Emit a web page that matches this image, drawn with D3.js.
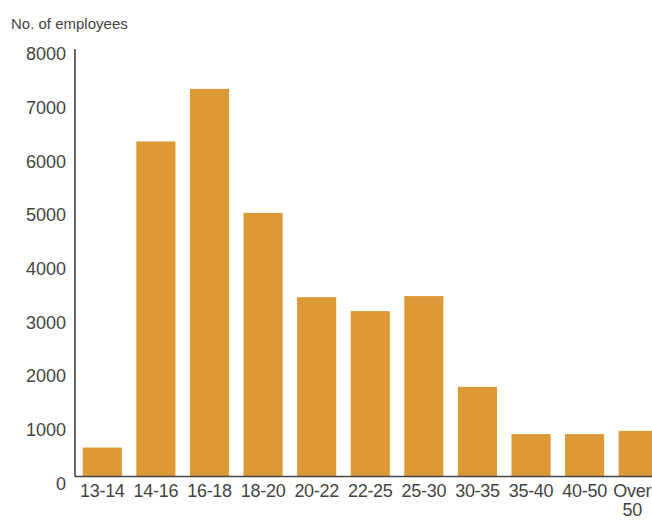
<!DOCTYPE html>
<html>
<head>
<meta charset="utf-8">
<script src="https://cdn.jsdelivr.net/npm/d3@7"></script>
<style>
  html, body { margin: 0; padding: 0; background: #fff; }
  svg { display: block; font-family: "Liberation Sans", Arial, sans-serif; }
</style>
</head>
<body>
<svg id="chart" width="652" height="520"></svg>
<script>
const categories = ["13-14", "14-16", "16-18", "18-20", "20-22", "22-25", "25-30", "30-35", "35-40", "40-50", "Over 50"];
const employees = [540, 6240, 7220, 4910, 3340, 3080, 3360, 1670, 790, 790, 850];
const yTicks = [0, 1000, 2000, 3000, 4000, 5000, 6000, 7000, 8000];
const yTitle = "No. of employees";

const svg = d3.select("#chart");
const textColor = "#444";
const barColor = "#dc9935";

const y = d3.scaleLinear().domain([0, 8000]).range([476.5, 47]);
const x = d3.scaleBand().domain(categories).range([75.5, 665]).paddingInner(0.27).paddingOuter(0.135);

// bars
svg.append("g").selectAll("rect").data(categories).join("rect")
  .attr("x", d => x(d))
  .attr("width", x.bandwidth())
  .attr("y", (d, i) => y(employees[i]))
  .attr("height", (d, i) => y(0) - y(employees[i]))
  .attr("fill", barColor);

// y axis
const yAxis = svg.append("g").attr("transform", "translate(75,0)")
  .call(d3.axisLeft(y).tickValues(yTicks).tickSize(0).tickPadding(9).tickFormat(d3.format("d")));
yAxis.select(".domain").attr("d", `M0,49V${y(0)}`).attr("stroke", "#333").attr("stroke-width", 1.5);
yAxis.selectAll(".tick text")
  .attr("fill", textColor).attr("font-size", 18)
  .attr("font-family", "Liberation Sans, Arial, sans-serif")
  .attr("dy", "0.71em");

// x axis
const xAxis = svg.append("g").attr("transform", `translate(0,${y(0)})`)
  .call(d3.axisBottom(x).tickSize(0).tickPadding(8));
xAxis.select(".domain").attr("d", "M75,0H652").attr("stroke", "#444").attr("stroke-width", 1.5);
xAxis.selectAll(".tick text")
  .attr("fill", textColor).attr("font-size", 18)
  .attr("font-family", "Liberation Sans, Arial, sans-serif")
  .attr("letter-spacing", "-0.3px")
  .each(function(d) {
    const t = d3.select(this);
    const words = d.split(" ");
    if (words.length > 1) {
      t.text(null);
      words.forEach((w, i) => {
        t.append("tspan").attr("x", -6).attr("dy", i === 0 ? "0.71em" : "1.05em").text(w);
      });
    }
  });

// title
svg.append("text")
  .attr("x", 11).attr("y", 29)
  .attr("fill", textColor).attr("font-size", 15)
  .text(yTitle);
</script>
</body>
</html>
